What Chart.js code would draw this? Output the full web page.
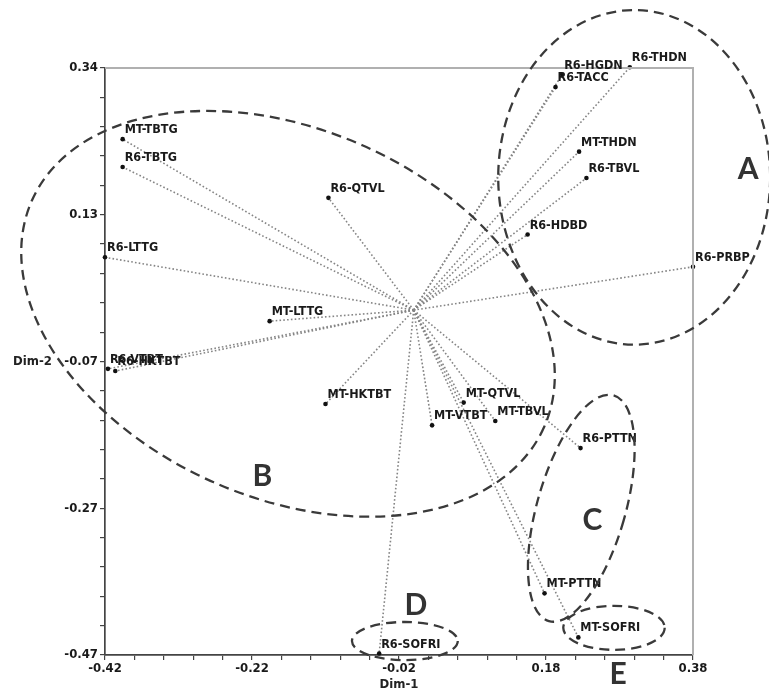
<!DOCTYPE html>
<html>
<head>
<meta charset="utf-8">
<script src="https://cdn.jsdelivr.net/npm/chart.js@4.4.1/dist/chart.umd.min.js"></script>
<style>
  html, body { margin:0; padding:0; background:#fff; }
  #wrap { width:769px; height:696px; position:relative; }
</style>
</head>
<body>
<div id="wrap"><canvas id="mca"></canvas></div>
<script>
// variable categories and their coordinates on Dim-1 / Dim-2
const names = ["MT-TBTG","R6-TBTG","R6-QTVL","R6-LTTG","MT-LTTG","R6-VTBT","R6-HKTBT","MT-HKTBT",
  "MT-QTVL","MT-VTBT","MT-TBVL","R6-PTTN","MT-PTTN","MT-SOFRI","R6-SOFRI",
  "R6-HGDN","R6-TACC","R6-THDN","MT-THDN","R6-TBVL","R6-HDBD","R6-PRBP"];
const dim1 = [-0.396,-0.396,-0.116,-0.420,-0.196,-0.416,-0.406,-0.120,
  0.068,0.025,0.111,0.227,0.178,0.224,-0.047,
  0.202,0.193,0.294,0.225,0.235,0.155,0.380];
const dim2 = [0.233,0.195,0.153,0.072,-0.015,-0.080,-0.083,-0.128,
  -0.126,-0.157,-0.151,-0.188,-0.386,-0.446,-0.468,
  0.321,0.304,0.331,0.216,0.180,0.103,0.059];

const xTickLabels = ["-0.42","-0.22","-0.02","0.18","0.38"];
const yTickLabels = ["-0.47","-0.27","-0.07","0.13","0.34"];

// groups drawn as dashed rings, letter placed near each one
const groupNames = ["A","B","C","D","E"];
const groupX = [0.455,-0.206,0.243,0.003,0.278];
const groupY = [0.192,-0.226,-0.287,-0.402,-0.497];

// ring geometry in data units, tilt in degrees (clockwise on screen)
const rings = [
  {cx:0.300, cy:0.181, rx:0.185, ry:0.228, tilt:0},
  {cx:-0.171, cy:-0.005, rx:0.381, ry:0.251, tilt:23.8},
  {cx:0.228, cy:-0.270, rx:0.060, ry:0.160, tilt:16},
  {cx:-0.012, cy:-0.451, rx:0.072, ry:0.026, tilt:0},
  {cx:0.2725, cy:-0.433, rx:0.069, ry:0.030, tilt:0}
];

const labelFont = "bold 12.5px 'DejaVu Sans Condensed', 'DejaVu Sans', sans-serif";

const rays = names.map((n, i) => (
{
  data:[{x:0, y:0}, {x:dim1[i], y:dim2[i]}],
  showLine:true,
  borderColor:"#858585",
  borderWidth:1.6,
  borderDash:[1.6, 2.2],
  pointRadius:0,
  clip:false,
  order:2
}));

const decor =
{
  id:"decor",
  afterDatasetsDraw(chart)
  {
    const {ctx, chartArea:a, scales:{x, y}} = chart;
    const ux = Math.abs(x.getPixelForValue(1) - x.getPixelForValue(0));
    const uy = Math.abs(y.getPixelForValue(1) - y.getPixelForValue(0));
    ctx.save();

    // top / right frame
    ctx.strokeStyle = "#b0b0b0";
    ctx.lineWidth = 2;
    ctx.beginPath();
    ctx.moveTo(a.left, a.top);
    ctx.lineTo(a.right, a.top);
    ctx.lineTo(a.right, a.bottom);
    ctx.stroke();

    // point labels
    const pts = chart.getDatasetMeta(chart.data.datasets.length - 1).data;
    ctx.font = labelFont;
    ctx.fillStyle = "#1a1a1a";
    ctx.textAlign = "left";
    ctx.textBaseline = "bottom";
    pts.forEach((p, i) => ctx.fillText(names[i], p.x + 2, p.y - 3));

    // dashed group rings
    ctx.strokeStyle = "#3a3a3a";
    ctx.lineWidth = 2.3;
    ctx.setLineDash([10, 6]);
    rings.forEach(r =>
    {
      ctx.beginPath();
      ctx.ellipse(x.getPixelForValue(r.cx), y.getPixelForValue(r.cy),
        r.rx * ux, r.ry * uy, r.tilt * Math.PI / 180, 0, Math.PI * 2);
      ctx.stroke();
    });
    ctx.setLineDash([]);

    // group letters
    ctx.font = "bold 30px Lato, 'DejaVu Sans', sans-serif";
    ctx.fillStyle = "#333";
    ctx.textAlign = "center";
    ctx.textBaseline = "middle";
    groupNames.forEach((g, i) =>
      ctx.fillText(g, x.getPixelForValue(groupX[i]), y.getPixelForValue(groupY[i])));

    // axis titles
    ctx.font = "bold 13px 'DejaVu Sans Condensed', 'DejaVu Sans', sans-serif";
    ctx.fillStyle = "#222";
    ctx.fillText("Dim-1", (a.left + a.right) / 2, a.bottom + 30);
    ctx.textAlign = "left";
    ctx.fillText("Dim-2", 13, y.getPixelForValue(-0.07));
    ctx.restore();
  }
};

function minorTicks(min)
{
  return s =>
  {
    s.ticks = [];
    for (let i = 0; i <= 20; i++) s.ticks.push({value: min + i * 0.04});
  };
}

const tickFont = {family:"'DejaVu Sans Condensed', 'DejaVu Sans', sans-serif", size:13, weight:"bold"};

new Chart(document.getElementById("mca"),
{
  type:"scatter",
  data:
  {
    datasets:[...rays,
    {
      data:names.map((n, i) => ({x:dim1[i], y:dim2[i]})),
      pointRadius:2.3,
      pointHoverRadius:2.3,
      backgroundColor:"#111",
      borderWidth:0,
      clip:false,
      order:1
    }]
  },
  options:
  {
    responsive:true,
    maintainAspectRatio:false,
    animation:false,
    layout:{padding:{top:68, right:76, left:0, bottom:0}},
    plugins:{legend:{display:false}, tooltip:{enabled:false}},
    scales:
    {
      x:
      {
        min:-0.42, max:0.38,
        afterBuildTicks:minorTicks(-0.42),
        afterFit:s => { s.height = 41; },
        grid:{drawOnChartArea:false, tickLength:5, color:"#444", lineWidth:1.2},
        border:{color:"#444", width:1.7},
        ticks:
        {
          autoSkip:false, maxRotation:0, padding:1, color:"#1a1a1a", font:tickFont,
          callback:(v, i) => i % 5 === 0 ? xTickLabels[i / 5] : ""
        }
      },
      y:
      {
        min:-0.47, max:0.33,
        afterBuildTicks:minorTicks(-0.47),
        afterFit:s => { s.width = 105; },
        grid:{drawOnChartArea:false, tickLength:5, color:"#444", lineWidth:1.2},
        border:{color:"#444", width:1.7},
        ticks:
        {
          autoSkip:false, padding:2, color:"#1a1a1a", font:tickFont,
          callback:(v, i) => i % 5 === 0 ? yTickLabels[i / 5] : ""
        }
      }
    }
  },
  plugins:[decor]
});
</script>
</body>
</html>
